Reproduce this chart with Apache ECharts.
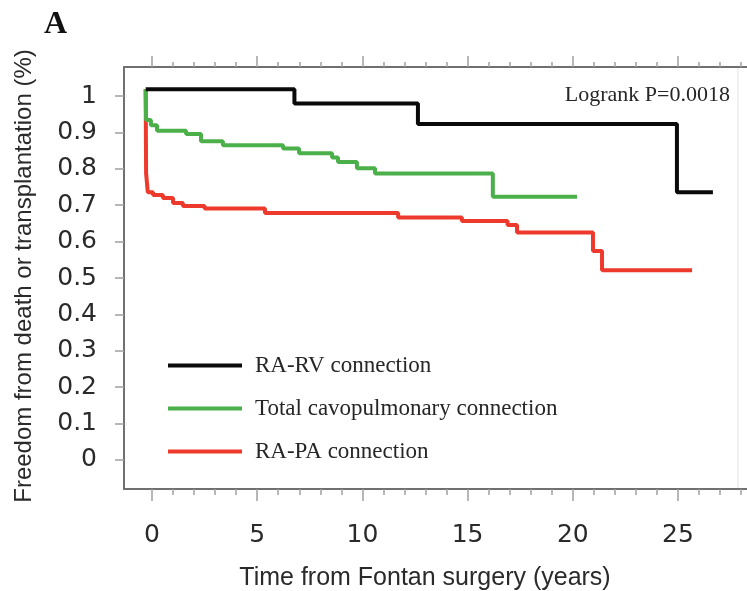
<!DOCTYPE html>
<html>
<head>
<meta charset="utf-8">
<script src="https://cdn.jsdelivr.net/npm/echarts@6/dist/echarts.min.js"></script>
<style>
  html, body { margin: 0; padding: 0; background: #fff; }
  #chart { width: 747px; height: 591px; }
</style>
</head>
<body>
<div id="chart"></div>
<script>
// Kaplan-Meier estimates: freedom from death or transplantation after Fontan surgery
const seriesNames = ['RA-RV connection', 'Total cavopulmonary connection', 'RA-PA connection'];

// RA-RV connection
const rvTimes = [-0.3, 6.77, 12.64, 24.95, 26.66];
const rvSurv  = [1.019, 0.980, 0.923, 0.736, 0.736];

// Total cavopulmonary connection
const tcpcTimes = [-0.3, -0.28, -0.05, 0.24, 1.62, 2.33, 3.37, 6.23, 6.99, 8.56, 8.84, 9.74, 10.6, 16.2, 20.2];
const tcpcSurv  = [1.019, 0.934, 0.920, 0.905, 0.896, 0.876, 0.865, 0.856, 0.843, 0.831, 0.819, 0.802, 0.787, 0.723, 0.723];

// RA-PA connection
const paTimes = [-0.3, -0.28, -0.2, 0.05, 0.52, 1.0, 1.47, 2.5, 5.37, 11.7, 14.73, 16.9, 17.35, 20.96, 21.39, 25.67];
const paSurv  = [1.019, 0.788, 0.736, 0.728, 0.720, 0.706, 0.698, 0.691, 0.679, 0.666, 0.657, 0.646, 0.625, 0.574, 0.521, 0.521];

// Axis ticks
const xMajorTicks = [0, 5, 10, 15, 20, 25];
const xMinorTicks = [0, 1, 2, 3, 4, 5, 6, 7, 8, 9, 10, 11, 12, 13, 14, 15, 16, 17, 18, 19, 20, 21, 22, 23, 24, 25, 26, 27, 28];
const yTicks = [0, 0.1, 0.2, 0.3, 0.4, 0.5, 0.6, 0.7, 0.8, 0.9, 1];
const yTickLabels = ['0', '0.1', '0.2', '0.3', '0.4', '0.5', '0.6', '0.7', '0.8', '0.9', '1'];

const pValueText = 'Logrank P=0.0018';
const panelLetter = 'A';
const xTitle = 'Time from Fontan surgery (years)';
const yTitle = 'Freedom from death or transplantation (%)';

const colors = ['#0a0a0a', '#4cb04a', '#ee3a2c'];

function pairs(ts, vs) { return ts.map((t, i) => [t, vs[i]]); }

const X_MIN = -1.33, X_MAX = 28.28;
const frameColor = '#707070';
const tickColor = '#a0a0a0';
const labelFont = 'DejaVu Sans';

function xAxisDef(position, ticks, len, showLine, showLabel) {
  return {
    type: 'value', position: position, min: X_MIN, max: X_MAX,
    axisLine: { show: showLine, onZero: false, lineStyle: { color: frameColor, width: 2 } },
    axisTick: { show: true, customValues: ticks, length: len, lineStyle: { color: tickColor, width: 1.5 } },
    axisLabel: showLabel ? {
      show: true, customValues: ticks, margin: 34,
      color: '#2a2a2a', fontFamily: labelFont, fontSize: 25
    } : { show: false },
    splitLine: { show: false }
  };
}

const chart = echarts.init(document.getElementById('chart'), null, { renderer: 'canvas' });

chart.setOption({
  animation: false,
  backgroundColor: '#fff',
  grid: { left: 124, right: 0, top: 67, bottom: 102, containLabel: false },
  xAxis: [
    xAxisDef('bottom', xMajorTicks, 12, true, true),
    xAxisDef('bottom', xMinorTicks, 6, false, false),
    xAxisDef('top', xMajorTicks, 11, true, false),
    xAxisDef('top', xMinorTicks, 5, false, false)
  ],
  yAxis: [{
    type: 'value', position: 'left', min: -0.08, max: 1.08,
    axisLine: { show: true, onZero: false, lineStyle: { color: frameColor, width: 2 } },
    axisTick: { show: true, customValues: yTicks, length: 9, lineStyle: { color: tickColor, width: 1.5 } },
    axisLabel: {
      show: true, customValues: yTicks, margin: 27,
      color: '#2a2a2a', fontFamily: labelFont, fontSize: 25,
      formatter: function (v) {
        const i = yTicks.findIndex(t => Math.abs(t - v) < 1e-6);
        return i >= 0 ? yTickLabels[i] : '';
      }
    },
    splitLine: { show: false }
  }],
  legend: {
    orient: 'vertical', left: 163, top: 349,
    itemWidth: 74, itemHeight: 4, itemGap: 20,
    icon: 'rect',
    data: seriesNames,
    textStyle: {
      fontFamily: 'Liberation Serif', fontSize: 23, color: '#262626',
      padding: [0, 0, 0, 8]
    }
  },
  series: [
    {
      name: seriesNames[0], type: 'line', step: 'end', z: 4,
      data: pairs(rvTimes, rvSurv), showSymbol: false, symbol: 'none',
      lineStyle: { color: colors[0], width: 4 }, itemStyle: { color: colors[0] }
    },
    {
      name: seriesNames[1], type: 'line', step: 'end', z: 3,
      data: pairs(tcpcTimes, tcpcSurv), showSymbol: false, symbol: 'none',
      lineStyle: { color: colors[1], width: 4 }, itemStyle: { color: colors[1] }
    },
    {
      name: seriesNames[2], type: 'line', step: 'end', z: 2,
      data: pairs(paTimes, paSurv), showSymbol: false, symbol: 'none',
      lineStyle: { color: colors[2], width: 4 }, itemStyle: { color: colors[2] }
    }
  ],
  graphic: [
    { type: 'text', left: 44, top: 9,
      style: { text: panelLetter, font: 'bold 32px "Liberation Serif"', fill: '#111' } },
    { type: 'text', right: 17, top: 84,
      style: { text: pValueText, font: '22px "Liberation Serif"', fill: '#262626' } },
    { type: 'text', x: 425, y: 578,
      style: { text: xTitle, font: '25px "Liberation Sans"', fill: '#2a2a2a', align: 'center', verticalAlign: 'middle' } },
    { type: 'text', x: 24, y: 276, rotation: Math.PI / 2,
      style: { text: yTitle, font: '24px "Liberation Sans"', fill: '#2a2a2a', align: 'center', verticalAlign: 'middle' } },
    { type: 'line', shape: { x1: 738, y1: 67, x2: 738, y2: 489 },
      style: { stroke: '#ececec', lineWidth: 1.5 } }
  ]
});
</script>
</body>
</html>
